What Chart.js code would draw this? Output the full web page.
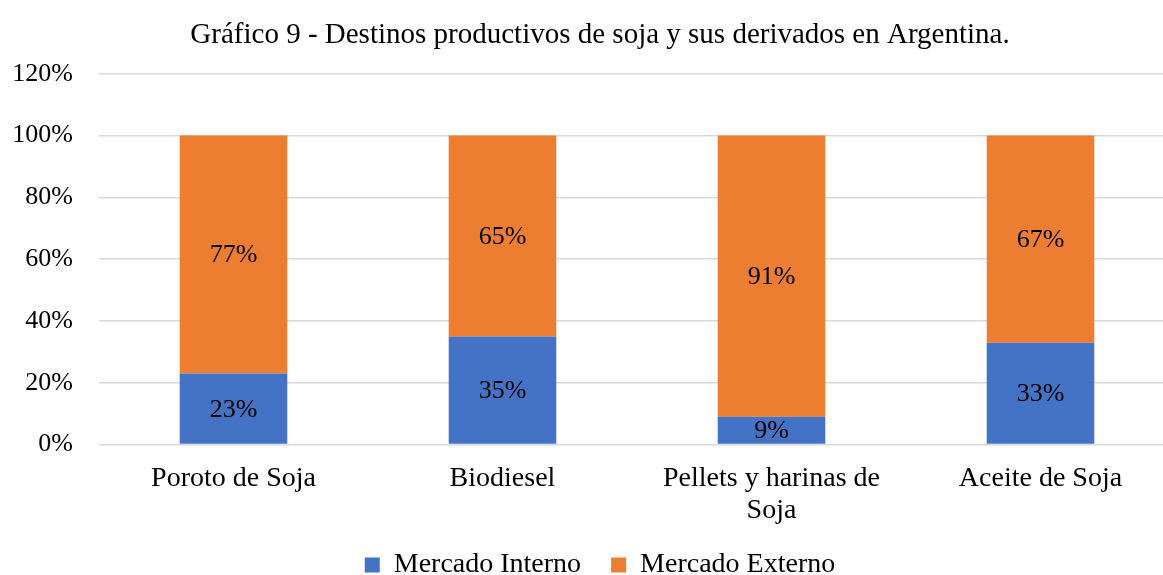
<!DOCTYPE html>
<html>
<head>
<meta charset="utf-8">
<script src="https://cdn.jsdelivr.net/npm/chart.js@4/dist/chart.umd.min.js"></script>
<style>
  html, body { margin: 0; padding: 0; background: #fff; overflow: hidden; }
  #wrap { position: relative; width: 1200px; height: 605px; }
</style>
</head>
<body>
<div id="wrap"><canvas id="chart"></canvas></div>
<script>
// datos del gráfico
const categories = ['Poroto de Soja', 'Biodiesel', ['Pellets y harinas de', 'Soja'], 'Aceite de Soja'];
const interno = [23, 35, 9, 33];
const externo = [77, 65, 91, 67];
const yTicks = [0, 20, 40, 60, 80, 100, 120];

const serif = "'Liberation Serif', 'Times New Roman', serif";

// etiquetas dentro de las barras
const barLabels = {
  id: 'barLabels',
  afterDatasetsDraw(chart) {
    const ctx = chart.ctx;
    ctx.save();
    ctx.font = '26px ' + serif;
    ctx.fillStyle = '#000';
    ctx.textAlign = 'center';
    ctx.textBaseline = 'middle';
    chart.data.datasets.forEach((ds, i) => {
      chart.getDatasetMeta(i).data.forEach((bar, j) => {
        const mid = (bar.y + bar.base) / 2;
        ctx.fillText(ds.data[j] + '%', bar.x, mid + 1);
      });
    });
    ctx.restore();
  }
};

// sube un poco la leyenda (el padding grande sólo se quiere entre items)
const legendShift = {
  id: 'legendShift',
  afterLayout(chart) {
    chart.legend.top -= 16;
    chart.legend.bottom -= 16;
  }
};

const ctx = document.getElementById('chart').getContext('2d');
new Chart(ctx, {
  type: 'bar',
  data: {
    labels: categories,
    datasets: [
      { label: 'Mercado Interno', data: interno, backgroundColor: '#4472C4' },
      { label: 'Mercado Externo', data: externo, backgroundColor: '#ED7D31' }
    ]
  },
  options: {
    responsive: true,
    maintainAspectRatio: false,
    animation: false,
    layout: { padding: { left: 0, right: 0, top: 16, bottom: 0 } },
    datasets: { bar: { categoryPercentage: 0.4, barPercentage: 1 } },
    plugins: {
      title: {
        display: true,
        text: 'Gráfico 9 - Destinos productivos de soja y sus derivados en Argentina.',
        color: '#000',
        font: { family: serif, size: 29, weight: 'normal' },
        padding: { top: 2, bottom: 21 }
      },
      legend: {
        position: 'bottom',
        labels: {
          color: '#000',
          font: { family: serif, size: 28 },
          boxWidth: 15,
          boxHeight: 15,
          padding: 30
        }
      },
      tooltip: { enabled: false }
    },
    scales: {
      x: {
        stacked: true,
        grid: { display: false },
        border: { display: false },
        ticks: { color: '#000', font: { family: serif, size: 28, lineHeight: 1.15 }, maxRotation: 0, padding: 10 }
      },
      y: {
        stacked: true,
        min: 0,
        max: 120,
        afterFit(scale) { scale.width = 99; },
        afterBuildTicks(scale) { scale.ticks = yTicks.map(v => ({ value: v })); },
        grid: { color: '#D9D9D9', lineWidth: 1.5, drawTicks: false },
        border: { display: false },
        ticks: {
          color: '#000',
          font: { family: serif, size: 26 },
          padding: 26,
          callback: v => v + '%'
        }
      },
      // eje vacío a la derecha, sólo para que el título y la leyenda queden centrados
      yRight: {
        position: 'right',
        afterFit(scale) { scale.width = 25; },
        grid: { display: false },
        border: { display: false },
        ticks: { display: false }
      }
    }
  },
  plugins: [barLabels, legendShift]
});
</script>
</body>
</html>
